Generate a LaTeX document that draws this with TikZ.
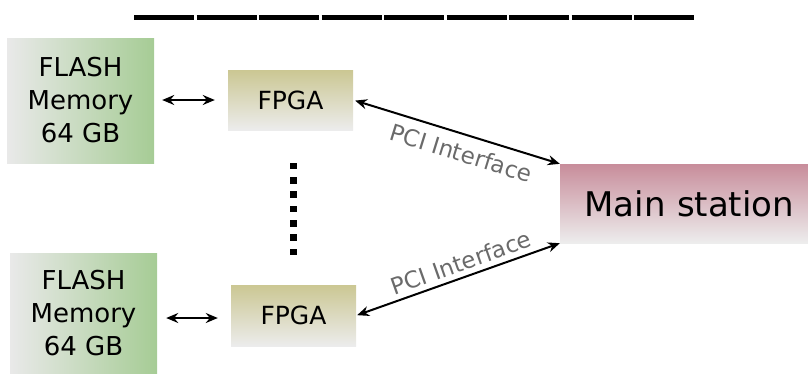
\documentclass[tikz,border=0pt]{standalone}
\usepackage{fontspec}
\setmainfont{DejaVu Sans}
\usetikzlibrary{arrows.meta,calc}
\definecolor{flashL}{HTML}{E9E9E9}
\definecolor{flashR}{HTML}{A6CC95}
\definecolor{fpgaT}{HTML}{CBC793}
\definecolor{fpgaB}{HTML}{ECECEC}
\definecolor{mainT}{HTML}{C88D9B}
\definecolor{mainB}{HTML}{EDEDED}
\definecolor{lblgray}{HTML}{6A6A6A}
\tikzset{
  flashbox/.style={minimum width=147pt, minimum height=125pt, inner sep=0pt,
    left color=flashL, right color=flashR, align=center,
    font=\fontsize{26}{33}\selectfont},
  fpgabox/.style={minimum width=125pt, minimum height=60pt, inner sep=0pt,
    top color=fpgaT, bottom color=fpgaB, font=\fontsize{25}{30}\selectfont},
  mainbox/.style={minimum width=248pt, minimum height=79pt, inner sep=0pt,
    top color=mainT, bottom color=mainB, font=\fontsize{34}{40}\selectfont},
  biarrow/.style={line width=2pt, {Stealth[length=12pt,width=10pt,inset=4pt]}-{Stealth[length=12pt,width=10pt,inset=4pt]}},
  pcilabel/.style={font=\fontsize{23}{27}\selectfont, text=lblgray, sloped, inner sep=2pt},
  dotsq/.style={fill=black},
}
\begin{document}
\begin{tikzpicture}[x=1pt,y=-1pt]
\useasboundingbox (0,0) rectangle (808,373);
% top dashed line
\draw[line width=4.5pt, dash pattern=on 60.2pt off 2.3pt] (134,17.5) -- (694,17.5);
% boxes
\node[flashbox] (flash1) at (80.5,100.5) {FLASH\\Memory\\64 GB};
\node[flashbox, minimum height=120pt] (flash2) at (83.5,313) {FLASH\\Memory\\64 GB};
\node[fpgabox] (fpga1) at (290.5,100) {FPGA};
\node[fpgabox, minimum height=61pt] (fpga2) at (293.5,315.5) {FPGA};
\node[mainbox, text width=220pt, align=right] (main) at (684,203.5) {Main station};
% vertical dots
\foreach \yy in {166,180.3,194.6,208.9,223.2,237.5,251.8}
  \fill[dotsq] (289.5,\yy-3.3) rectangle (296.5,\yy+3.3);
% short arrows
\draw[biarrow, shorten <=8pt, shorten >=13pt] (flash1.east |- fpga1.west) -- (fpga1.west);
\draw[biarrow, shorten <=9pt, shorten >=13pt] ($(flash2.east |- fpga2.west)+(0,2.5)$) -- ($(fpga2.west)+(0,2.5)$);
% PCI arrows
\draw[biarrow, shorten <=2pt] (fpga1.east) -- (main.north west)
  node[pcilabel, pos=0.55, below=7pt] {PCI Interface};
\draw[biarrow, shorten <=1pt] (fpga2.east) -- (main.south west)
  node[pcilabel, pos=0.54, above=3pt] {PCI Interface};
\end{tikzpicture}
\end{document}
